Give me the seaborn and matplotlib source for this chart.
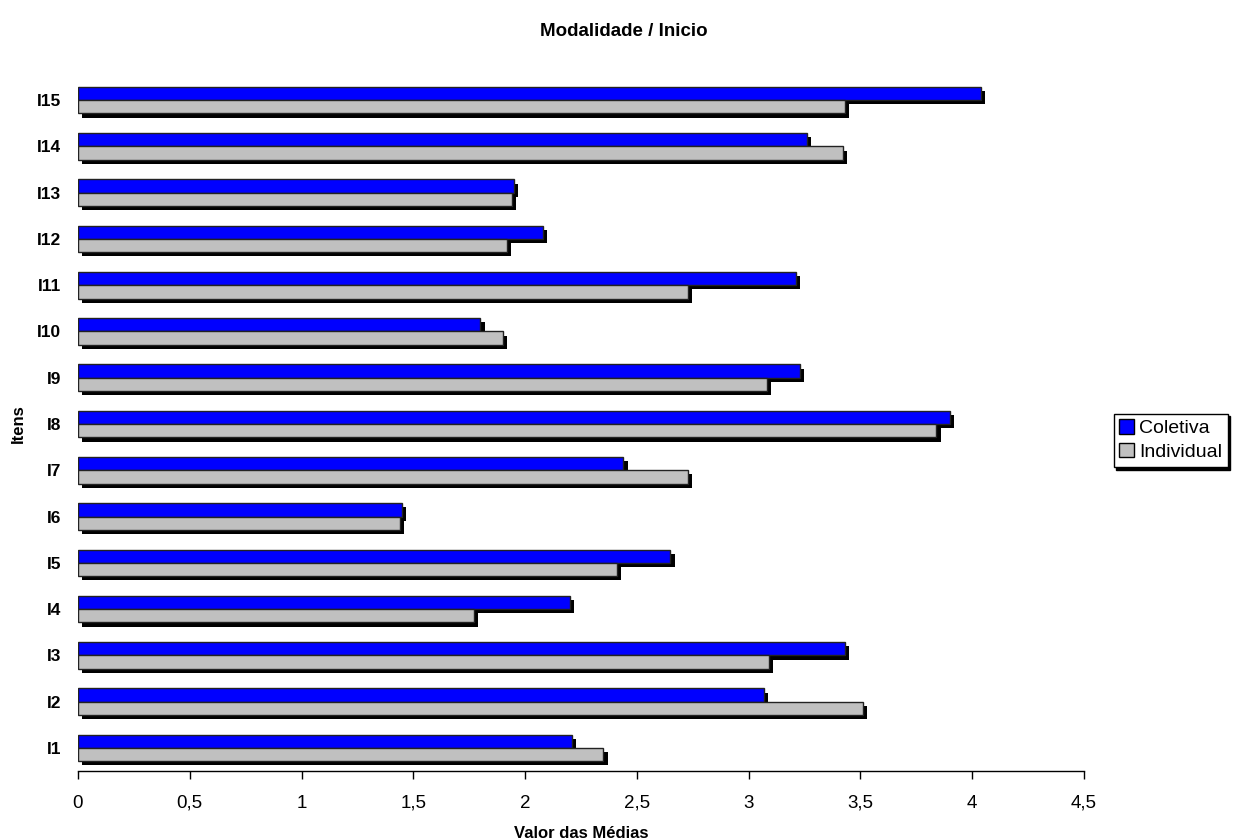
import matplotlib
matplotlib.use("Agg")
import matplotlib.pyplot as plt
import matplotlib.patheffects as pe
from matplotlib.patches import Patch
import pandas as pd
import seaborn as sns

# Item labels, top to bottom
items = ["I15", "I14", "I13", "I12", "I11", "I10", "I9", "I8",
         "I7", "I6", "I5", "I4", "I3", "I2", "I1"]
coletiva = [4.04, 3.26, 1.95, 2.08, 3.21, 1.80, 3.23, 3.90,
            2.44, 1.45, 2.65, 2.20, 3.43, 3.07, 2.21]
individual = [3.43, 3.42, 1.94, 1.92, 2.73, 1.90, 3.08, 3.84,
              2.73, 1.44, 2.41, 1.77, 3.09, 3.51, 2.35]
groups = ["Coletiva", "Individual"]
xticks = [0, 0.5, 1, 1.5, 2, 2.5, 3, 3.5, 4, 4.5]
xtick_labels = ["0", "0,5", "1", "1,5", "2", "2,5", "3", "3,5", "4", "4,5"]

df = pd.DataFrame({
    "Itens": items * 2,
    "Valor": coletiva + individual,
    "Grupo": [groups[0]] * len(items) + [groups[1]] * len(items),
})

sns.set_theme(style="white")
plt.rcParams["font.family"] = ["Liberation Sans", "DejaVu Sans"]
for key in ["text.color", "axes.labelcolor", "xtick.color", "ytick.color"]:
    plt.rcParams[key] = "black"

colors = {"Coletiva": "#0000FF", "Individual": "#C0C0C0"}

fig = plt.figure(figsize=(12.47, 8.40), dpi=100)
ax = fig.add_axes([0.0625, 0.0821, 0.8068, 0.8262])

sns.barplot(data=df, y="Itens", x="Valor", hue="Grupo", order=items,
            hue_order=groups, palette=colors, orient="h", width=0.575,
            edgecolor="#222222", linewidth=1.0, saturation=1, ax=ax,
            legend=False)

# drop shadow behind every bar
for p in ax.patches:
    p.set_path_effects([
        pe.SimplePatchShadow(offset=(3, -3), shadow_rgbFace="black", alpha=1.0),
        pe.Normal(),
    ])

ax.set_xlim(0, 4.5)
ax.set_xticks(xticks)
ax.set_xticklabels(xtick_labels, fontsize=13.5, color="black")
ax.tick_params(axis="x", direction="out", length=6, width=1, color="black",
               pad=11, bottom=True)
ax.tick_params(axis="y", length=0, pad=12)
for lab in ax.get_yticklabels():
    lab.set_fontweight("bold")
    lab.set_fontsize(12.5)
    lab.set_color("black")

for side in ["top", "right", "left"]:
    ax.spines[side].set_visible(False)
ax.spines["bottom"].set_color("black")
ax.spines["bottom"].set_linewidth(1.0)

ax.set_xlabel("Valor das Médias", fontsize=12, fontweight="bold", labelpad=10,
              color="black")
ax.set_ylabel("Itens", fontsize=12, fontweight="bold", labelpad=8, color="black")

fig.text(0.5, 0.963, "Modalidade / Inicio", ha="center", va="center",
         fontsize=13.5, fontweight="bold", color="black")

handles = [Patch(facecolor=colors[g], edgecolor="black", linewidth=1.0) for g in groups]
leg = fig.legend(handles, groups, loc="center left", bbox_to_anchor=(0.893, 0.476),
                 fontsize=14, frameon=True, fancybox=False, shadow={"color": "black", "alpha": 1},
                 handlelength=0.75, handleheight=0.75, handletextpad=0.25,
                 borderpad=0.3, labelspacing=0.3, borderaxespad=0)
leg.get_frame().set_edgecolor("black")
leg.get_frame().set_linewidth(1.0)
for t in leg.get_texts():
    t.set_color("black")

fig.savefig("out.png", dpi=100, facecolor="white")
